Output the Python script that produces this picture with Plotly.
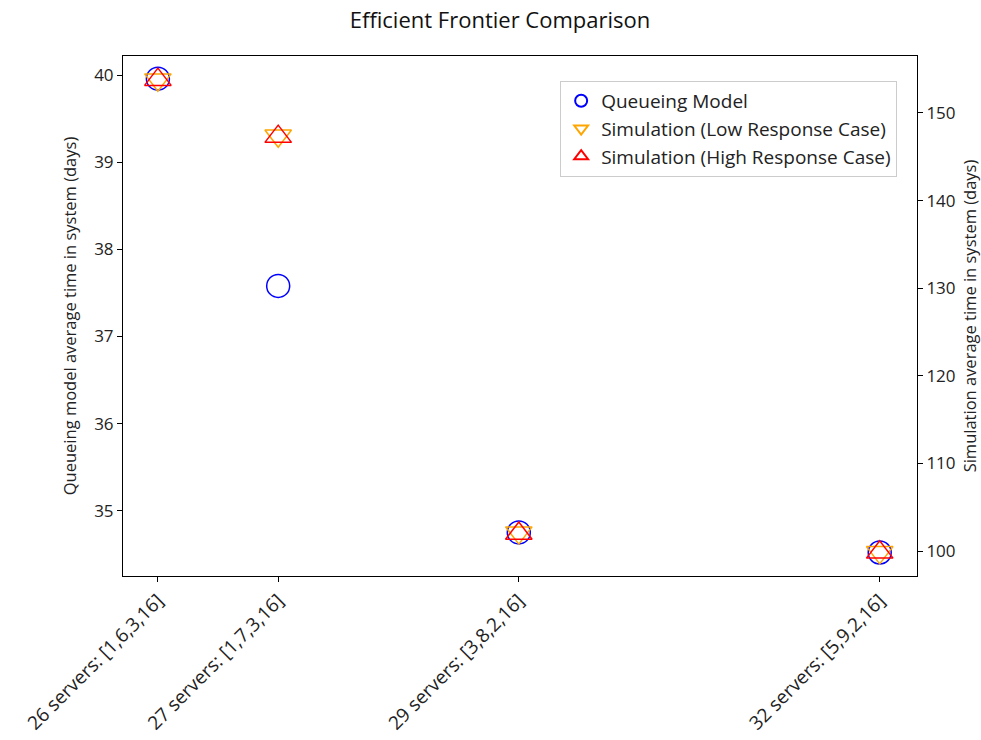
import plotly.graph_objects as go

servers = [26, 27, 29, 32]
tick_labels = ["26 servers: [1,6,3,16]", "27 servers: [1,7,3,16]",
               "29 servers: [3,8,2,16]", "32 servers: [5,9,2,16]"]
queueing = [39.96, 37.58, 34.75, 34.52]
sim_low = [153.8, 147.4, 102.1, 99.85]
sim_high = [153.8, 147.3, 102.0, 99.85]

FONT = "Open Sans"
fig = go.Figure()
fig.add_trace(go.Scatter(x=servers, y=queueing, mode="markers", name="Queueing Model",
                         marker=dict(symbol="circle-open", size=23, color="blue",
                                     line=dict(width=1.5, color="blue"))))
fig.add_trace(go.Scatter(x=servers, y=sim_low, mode="markers", name="Simulation (Low Response Case)",
                         yaxis="y2",
                         marker=dict(symbol="triangle-down-open", size=23, color="orange",
                                     line=dict(width=1.5, color="orange"))))
fig.add_trace(go.Scatter(x=servers, y=sim_high, mode="markers", name="Simulation (High Response Case)",
                         yaxis="y2",
                         marker=dict(symbol="triangle-up-open", size=23, color="red",
                                     line=dict(width=1.5, color="red"))))

fig.update_layout(
    width=981, height=740,
    paper_bgcolor="white", plot_bgcolor="white",
    font=dict(family=FONT, size=17, color="#222"),
    margin=dict(l=123, r=64, t=56, b=164),
    title=dict(text="Efficient Frontier Comparison", x=500 / 981, xanchor="center",
               y=1 - 20 / 740, yanchor="middle", font=dict(size=22, color="#111")),
    showlegend=True,
    legend=dict(x=0.975, y=0.952, xanchor="right", yanchor="top",
                bgcolor="rgba(255,255,255,0.8)", bordercolor="#ccc", borderwidth=1,
                font=dict(size=19), itemsizing="constant", tracegroupgap=0),
    xaxis=dict(range=[25.71, 32.31], tickmode="array", tickvals=servers, ticktext=tick_labels,
               tickangle=-45, tickfont=dict(size=19), showgrid=False, zeroline=False,
               showline=True, linecolor="black", automargin=False,
               linewidth=1, mirror=True, ticks="outside", ticklen=5, tickcolor="black"),
    yaxis=dict(range=[34.25, 40.22], dtick=1, showgrid=False, zeroline=False, showline=True,
               linecolor="black", linewidth=1, mirror=True, ticks="outside", ticklen=5,
               tickcolor="black", automargin=False,
               title=dict(text="Queueing model average time in system (days)", standoff=13,
                          font=dict(size=16.5))),
    yaxis2=dict(range=[97.15, 156.5], dtick=10, overlaying="y", side="right", showgrid=False,
                zeroline=False, showline=True, linecolor="black", linewidth=1,
                ticks="outside", ticklen=5, tickcolor="black", automargin=False,
                title=dict(text="Simulation average time in system (days)", standoff=19,
                           font=dict(size=16.5))),
)

fig.write_html("out.html", config={"displayModeBar": False},
               post_script="document.body.style.margin='0';")
